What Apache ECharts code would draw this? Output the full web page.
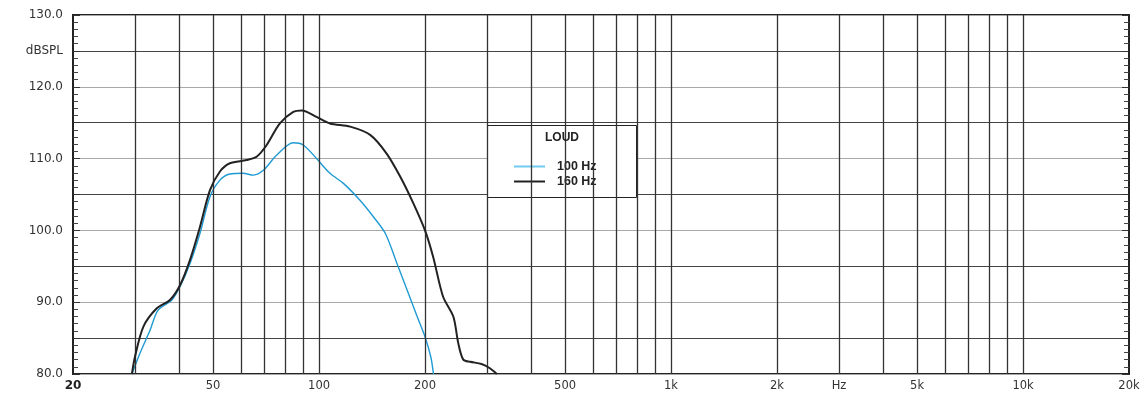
<!DOCTYPE html>
<html>
<head>
<meta charset="utf-8">
<script src="https://cdn.jsdelivr.net/npm/echarts@6/dist/echarts.min.js"></script>
<style>
	html, body { margin: 0; padding: 0; background: #fff; }
	#chart { width: 1147px; height: 394px; }
</style>
</head>
<body>
<div id="chart"></div>
<script>
// frequency (Hz) / level (dBSPL), below 80 dB the trace sits on the floor
const freq100 = [29.4, 31.0, 33.1, 34.9, 38.2, 40.3, 43, 45.9, 49, 52.3, 55.8, 60.8, 65.1, 69.6, 75.8, 84.5, 90.2, 98.4, 107.4, 117.3, 130.7, 142.7, 154.2, 166.5, 177.9, 190, 200, 207.7, 211.4]
const level100 = [80, 82.9, 86.1, 88.9, 90.3, 92.2, 95.4, 99.6, 104.7, 107.0, 107.85, 107.95, 107.7, 108.4, 110.5, 112.2, 111.9, 110.0, 107.95, 106.55, 104.2, 101.9, 99.6, 95.4, 91.7, 88.0, 85.2, 82.4, 80]

const freq160 = [29.4, 30.0, 31.7, 34.6, 37.7, 40.3, 43, 45.9, 49, 52.3, 55.8, 62.3, 66.6, 71, 77.4, 84.5, 89.3, 98.4, 107.4, 122.6, 139.7, 155.6, 170, 185.2, 200, 211, 225, 240.7, 248.6, 256.9, 268.7, 289.5, 305.8, 320]
const level160 = [80, 82.4, 86.6, 89.15, 90.3, 92.4, 95.9, 100.5, 105.6, 108.2, 109.35, 109.8, 110.3, 111.9, 114.9, 116.5, 116.7, 115.8, 114.9, 114.45, 113.3, 110.7, 107.5, 103.8, 100.0, 96.3, 90.8, 88.0, 84.3, 82.0, 81.7, 81.4, 80.8, 80]

const gridFreqs = [30, 40, 50, 60, 70, 80, 90, 100, 200, 300, 400, 500, 600, 700, 800, 900, 1000, 2000, 3000, 4000, 5000, 6000, 7000, 8000, 9000, 10000]
const xTickValues = [20, 50, 100, 200, 500, 1000, 2000, 3000, 5000, 10000, 20000]
const xTickLabels = ['20', '50', '100', '200', '500', '1k', '2k', 'Hz', '5k', '10k', '20k']

const pairs = (xs, ys) => xs.map((x, i) => [x, ys[i]])

const chart = echarts.init(document.getElementById('chart'))

const yAxisBase = {
	type: 'value',
	min: 80,
	max: 130,
	interval: 5,
	axisLine: { show: false },
	axisTick: { show: true, inside: true, length: 7, lineStyle: { color: '#333', width: 1 } },
	minorTick: { show: true, splitNumber: 5, length: 5, lineStyle: { color: '#444', width: 1 } }
}

const option = {
	animation: false,
	backgroundColor: '#fff',
	grid: {
		left: 73, right: 18, top: 15, bottom: 20,
		show: true, borderColor: '#222', borderWidth: 2
	},
	title: {
		text: 'LOUD',
		left: 557,
		top: 127,
		textAlign: 'center',
		textStyle: { fontFamily: 'Liberation Sans', fontSize: 12, fontWeight: 'bold', color: '#222' }
	},
	legend: {
		orient: 'vertical',
		left: 514,
		top: 160,
		padding: 0,
		icon: 'rect',
		itemWidth: 31,
		itemHeight: 2,
		itemGap: 2,
		textStyle: { fontFamily: 'Liberation Sans', fontSize: 12.5, fontWeight: 'bold', color: '#222', padding: [0, 0, 0, 7] },
		data: ['100 Hz', '160 Hz']
	},
	graphic: [{
		type: 'rect',
		shape: { x: 487.5, y: 125.5, width: 149, height: 72 },
		style: { fill: '#fff', stroke: '#222', lineWidth: 1 },
		z: 3
	}],
	xAxis: {
		type: 'log',
		logBase: 10,
		min: 20,
		max: 20000,
		axisLine: { show: false },
		axisTick: { show: false },
		splitLine: { show: false },
		axisLabel: {
			customValues: xTickValues,
			margin: 6,
			fontFamily: 'DejaVu Sans',
			fontSize: 11.5,
			color: '#333',
			formatter: v => {
				const i = xTickValues.findIndex(t => Math.abs(t - v) / t < 1e-6)
				if (i === 0) return '{b|' + xTickLabels[i] + '}'
				return i >= 0 ? xTickLabels[i] : ''
			},
			rich: { b: { fontFamily: 'DejaVu Sans', fontSize: 12, fontWeight: 'bold', color: '#222' } }
		}
	},
	yAxis: [
		Object.assign({}, yAxisBase, {
			position: 'left',
			splitLine: { show: true, lineStyle: { color: ['#a8a8a8', '#444'], width: 1.2 } },
			axisLabel: {
				margin: 10,
				fontFamily: 'DejaVu Sans',
				fontSize: 12,
				color: '#333',
				formatter: v => v % 10 === 0 ? v.toFixed(1) : (v === 125 ? 'dBSPL' : '')
			}
		}),
		Object.assign({}, yAxisBase, {
			position: 'right',
			splitLine: { show: false },
			axisLabel: { show: false }
		})
	],
	series: [
		{
			name: 'grid',
			type: 'line',
			data: [],
			z: 1,
			silent: true,
			markLine: {
				silent: true,
				symbol: 'none',
				label: { show: false },
				lineStyle: { color: '#333', width: 1.3, type: 'solid' },
				data: gridFreqs.map(f => ({ xAxis: f }))
			}
		},
		{
			name: '100 Hz',
			type: 'line',
			data: pairs(freq100, level100),
			smooth: 0.3,
			symbol: 'none',
			z: 4,
			lineStyle: { color: '#1f9ad3', width: 1.4 },
			itemStyle: { color: '#6fcbef' }
		},
		{
			name: '160 Hz',
			type: 'line',
			data: pairs(freq160, level160),
			smooth: 0.3,
			symbol: 'none',
			z: 5,
			lineStyle: { color: '#222', width: 2 },
			itemStyle: { color: '#222' }
		}
	]
}

chart.setOption(option)
</script>
</body>
</html>
